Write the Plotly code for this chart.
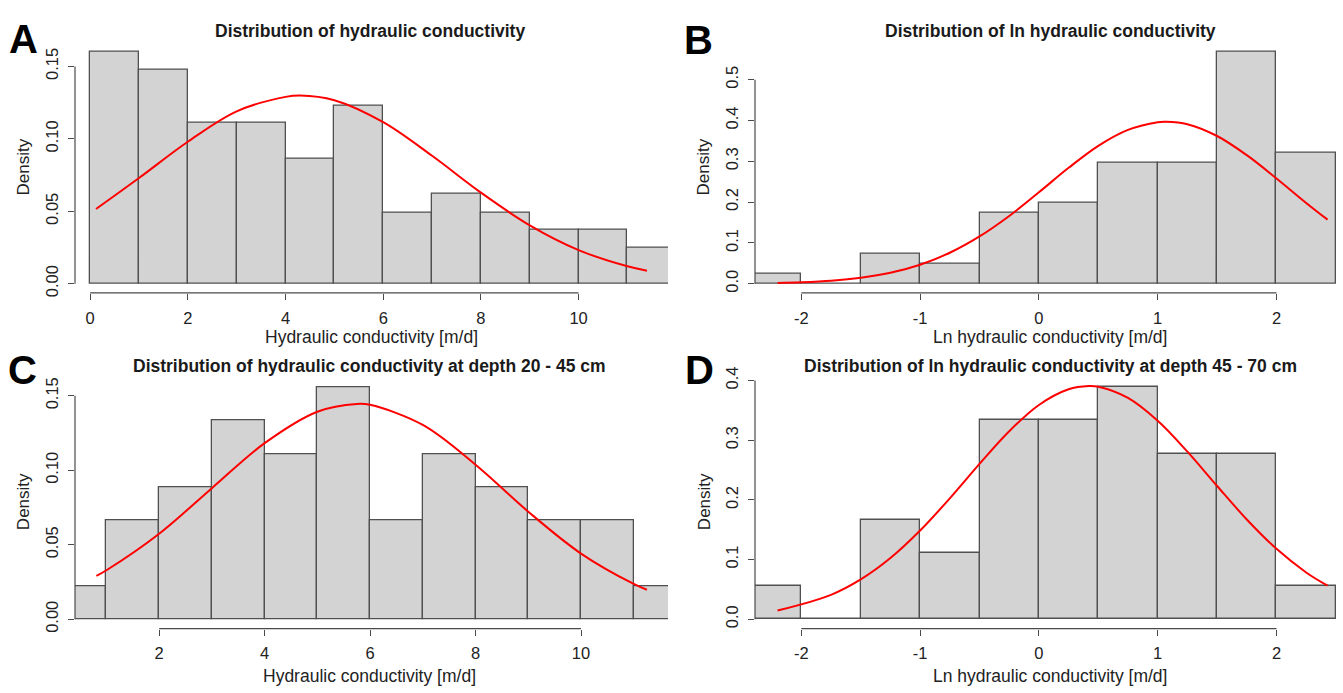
import plotly.graph_objects as go

# ---------------- data ----------------
a_breaks = [0, 1, 2, 3, 4, 5, 6, 7, 8, 9, 10, 11, 12]
a_density = [0.160, 0.148, 0.111, 0.111, 0.086, 0.123, 0.049, 0.062, 0.049, 0.037, 0.037, 0.025]
a_curve_x = [0.12, 1, 2, 3, 4, 4.3, 5, 6, 7, 8, 9, 10, 11, 11.4]
a_curve_y = [0.0516, 0.073, 0.098, 0.119, 0.129, 0.130, 0.1267, 0.1115, 0.0883, 0.0629, 0.0403, 0.0232, 0.0120, 0.009]

b_breaks = [-2.5, -2, -1.5, -1, -0.5, 0, 0.5, 1, 1.5, 2, 2.5]
b_density = [0.025, 0.0, 0.074, 0.049, 0.173, 0.198, 0.296, 0.296, 0.568, 0.321]
b_curve_x = [-2.2, -2, -1.75, -1.5, -1.25, -1, -0.75, -0.5, -0.25, 0, 0.25, 0.5, 0.75, 1, 1.07, 1.25, 1.5, 1.75, 2, 2.25, 2.43]
b_curve_y = [0.0019, 0.0036, 0.0074, 0.0146, 0.0269, 0.0466, 0.0758, 0.1158, 0.166, 0.224, 0.284, 0.338, 0.377, 0.396, 0.397, 0.391, 0.362, 0.315, 0.258, 0.198, 0.157]

c_breaks = [0, 1, 2, 3, 4, 5, 6, 7, 8, 9, 10, 11, 12]
c_density = [0.0222, 0.0667, 0.0889, 0.1333, 0.1111, 0.1556, 0.0667, 0.1111, 0.0889, 0.0667, 0.0667, 0.0222]
c_curve_x = [0.81, 1, 2, 3, 4, 5, 5.75, 6, 7, 8, 9, 10, 11, 11.25]
c_curve_y = [0.0291, 0.0329, 0.0574, 0.0880, 0.1182, 0.1393, 0.1445, 0.1439, 0.1304, 0.1037, 0.0722, 0.0441, 0.0237, 0.0198]

d_breaks = [-2.5, -2, -1.5, -1, -0.5, 0, 0.5, 1, 1.5, 2, 2.5]
d_density = [0.0556, 0.0, 0.1667, 0.1111, 0.3333, 0.3333, 0.3889, 0.2778, 0.2778, 0.0556]
d_curve_x = [-2.2, -1.75, -1.5, -1.25, -1, -0.75, -0.5, -0.25, 0, 0.25, 0.42, 0.5, 0.75, 1, 1.25, 1.5, 1.75, 2, 2.25, 2.43]
d_curve_y = [0.0145, 0.0409, 0.0667, 0.1025, 0.1486, 0.2026, 0.2603, 0.3150, 0.3590, 0.3853, 0.3907, 0.3895, 0.3708, 0.3325, 0.2808, 0.2233, 0.1672, 0.1180, 0.0784, 0.0563]

titles = ["Distribution of hydraulic conductivity",
          "Distribution of ln hydraulic conductivity",
          "Distribution of hydraulic conductivity at depth 20 - 45 cm",
          "Distribution of ln hydraulic conductivity at depth 45 - 70 cm"]
x_titles = ["Hydraulic conductivity [m/d]", "Ln hydraulic conductivity [m/d]",
            "Hydraulic conductivity [m/d]", "Ln hydraulic conductivity [m/d]"]
letters = ["A", "B", "C", "D"]

a_xticks = [0, 2, 4, 6, 8, 10]
b_xticks = [-2, -1, 0, 1, 2]
c_xticks = [2, 4, 6, 8, 10]
d_xticks = [-2, -1, 0, 1, 2]
a_yticks = [0, 0.05, 0.10, 0.15]
a_ylabels = ["0.00", "0.05", "0.10", "0.15"]
b_yticks = [0, 0.1, 0.2, 0.3, 0.4, 0.5]
b_ylabels = ["0.0", "0.1", "0.2", "0.3", "0.4", "0.5"]
c_yticks = [0, 0.05, 0.10, 0.15]
c_ylabels = ["0.00", "0.05", "0.10", "0.15"]
d_yticks = [0, 0.1, 0.2, 0.3, 0.4]
d_ylabels = ["0.0", "0.1", "0.2", "0.3", "0.4"]

W, H = 1343, 693
FONT = "Liberation Sans, Arial, Helvetica, sans-serif"
AXC = "#4a4a4a"

panels = [
    dict(breaks=a_breaks, dens=a_density, cx=a_curve_x, cy=a_curve_y,
         xt=a_xticks, yt=a_yticks, yl=a_ylabels,
         xdom=[75 / W, 668 / W], ydom=[1 - 288.2 / H, 1 - 32.4 / H],
         xr=[-0.31, 11.83], yr=[-0.0064, 0.1664],
         title_xy=(370, 20), letter_xy=(23, 29), dens_xy=(24, 160), xt_xy=(371, 333)),
    dict(breaks=b_breaks, dens=b_density, cx=b_curve_x, cy=b_curve_y,
         xt=b_xticks, yt=b_yticks, yl=b_ylabels,
         xdom=[755 / W, 1.0], ydom=[1 - 288.2 / H, 1 - 32.4 / H],
         xr=[-2.39, 2.56], yr=[-0.0227, 0.5907],
         title_xy=(1050, 20), letter_xy=(698, 30), dens_xy=(704, 160), xt_xy=(1050, 333)),
    dict(breaks=c_breaks, dens=c_density, cx=c_curve_x, cy=c_curve_y,
         xt=c_xticks, yt=c_yticks, yl=c_ylabels,
         xdom=[75 / W, 668 / W], ydom=[1 - 631.2 / H, 1 - 375.3 / H],
         xr=[0.404, 11.65], yr=[-0.00622, 0.1618],
         title_xy=(370, 363), letter_xy=(22, 367), dens_xy=(23, 502), xt_xy=(370, 680)),
    dict(breaks=d_breaks, dens=d_density, cx=d_curve_x, cy=d_curve_y,
         xt=d_xticks, yt=d_yticks, yl=d_ylabels,
         xdom=[755 / W, 1.0], ydom=[1 - 631.2 / H, 1 - 375.0 / H],
         xr=[-2.39, 2.56], yr=[-0.01556, 0.4044],
         title_xy=(1050, 363), letter_xy=(699, 367), dens_xy=(704, 502), xt_xy=(1050, 680)),
]

fig = go.Figure()
annotations = []
shapes = []
layout = {}

for i, p in enumerate(panels):
    n = "" if i == 0 else str(i + 1)
    xa, ya = "x" + n, "y" + n
    br = p["breaks"]
    centers = [(br[k] + br[k + 1]) / 2 for k in range(len(br) - 1)]
    widths = [br[k + 1] - br[k] for k in range(len(br) - 1)]
    fig.add_trace(go.Bar(x=centers, y=p["dens"], width=widths, xaxis=xa, yaxis=ya,
                         marker=dict(color="#d3d3d3", line=dict(color="#505050", width=1.3)),
                         showlegend=False, hoverinfo="x+y"))
    fig.add_trace(go.Scatter(x=p["cx"], y=p["cy"], mode="lines", xaxis=xa, yaxis=ya,
                             line=dict(color="#ff0000", width=2, shape="spline", smoothing=1.0),
                             showlegend=False))
    layout["xaxis" + n] = dict(domain=p["xdom"], range=p["xr"], anchor=ya,
                               tickmode="array", tickvals=p["xt"], ticktext=[str(v) for v in p["xt"]],
                               ticks="outside", ticklen=6, tickwidth=1.2, tickcolor=AXC,
                               showgrid=False, zeroline=False, showline=False,
                               tickfont=dict(family=FONT, size=16.5, color="#222222"),
                               ticklabelstandoff=4)
    layout["yaxis" + n] = dict(domain=p["ydom"], range=p["yr"], anchor=xa,
                               tickmode="array", tickvals=p["yt"], ticktext=p["yl"],
                               ticks="outside", ticklen=6, tickwidth=1.2, tickcolor=AXC,
                               tickangle=-90,
                               showgrid=False, zeroline=False, showline=False,
                               tickfont=dict(family=FONT, size=16.5, color="#222222"),
                               ticklabelstandoff=3)
    # R-style axis lines spanning first to last tick
    shapes.append(dict(type="line", xref=xa, yref="paper", x0=p["xt"][0], x1=p["xt"][-1],
                       y0=p["ydom"][0], y1=p["ydom"][0], line=dict(color=AXC, width=1.2)))
    shapes.append(dict(type="line", xref="paper", yref=ya, x0=p["xdom"][0], x1=p["xdom"][0],
                       y0=p["yt"][0], y1=p["yt"][-1], line=dict(color=AXC, width=1.2)))
    tx, ty = p["title_xy"]
    annotations.append(dict(text="<b>" + titles[i] + "</b>", x=tx / W, y=1 - ty / H,
                            xref="paper", yref="paper", showarrow=False,
                            xanchor="center", yanchor="middle",
                            font=dict(family=FONT, size=17.5, color="#1a1a1a")))
    lx, ly = p["letter_xy"]
    annotations.append(dict(text="<b>" + letters[i] + "</b>", x=lx / W, y=1 - ly / H,
                            xref="paper", yref="paper", showarrow=False,
                            xanchor="center", yanchor="middle",
                            font=dict(family=FONT, size=40, color="#000000")))
    dx, dy = p["dens_xy"]
    annotations.append(dict(text="Density", x=dx / W, y=1 - dy / H, textangle=-90,
                            xref="paper", yref="paper", showarrow=False,
                            xanchor="center", yanchor="middle",
                            font=dict(family=FONT, size=17, color="#222222")))
    ax, ay = p["xt_xy"]
    annotations.append(dict(text=x_titles[i], x=ax / W, y=1 - ay / H,
                            xref="paper", yref="paper", showarrow=False,
                            xanchor="center", yanchor="middle",
                            font=dict(family=FONT, size=17.5, color="#222222")))

fig.update_layout(width=W, height=H, margin=dict(l=0, r=0, t=0, b=0),
                  paper_bgcolor="white", plot_bgcolor="white", bargap=0,
                  annotations=annotations, shapes=shapes, **layout)

fig.write_html("out.html", config={"displayModeBar": False})
